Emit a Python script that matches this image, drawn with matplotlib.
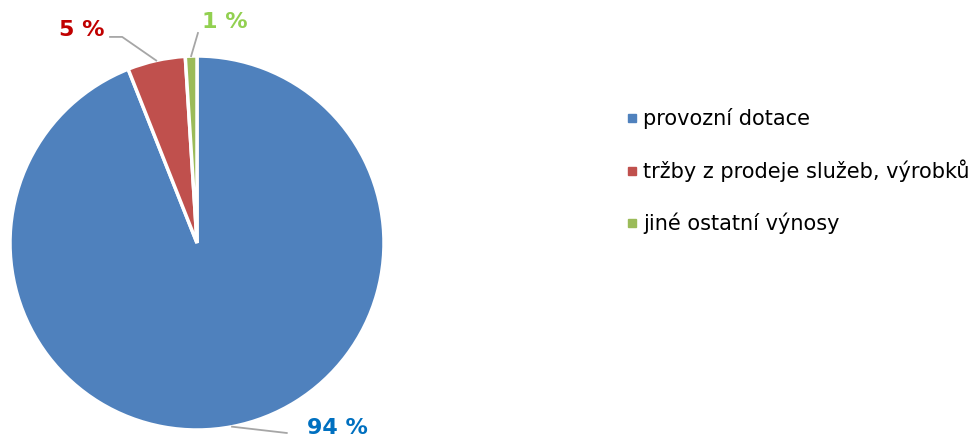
import matplotlib
matplotlib.use("Agg")
import matplotlib.pyplot as plt
import numpy as np
from matplotlib.lines import Line2D

categories = ["provozní dotace", "tržby z prodeje služeb, výrobků", "jiné ostatní výnosy"]
shares = [94, 5, 1]
labels = ["94 %", "5 %", "1 %"]
colors = ["#4F81BD", "#C0504D", "#9BBB59"]
label_colors = ["#0070C0", "#C00000", "#92D050"]

W, H = 975, 434
fig = plt.figure(figsize=(W / 100, H / 100), dpi=100)

# pie centre (197, 243) px, radius 187 px
cx, cy, r = 197, 243, 187
ax = fig.add_axes([(cx - r) / W, (H - cy - r) / H, 2 * r / W, 2 * r / H])
wedges, _ = ax.pie(shares, colors=colors, startangle=90, counterclock=False,
                   wedgeprops=dict(edgecolor="white", linewidth=2.5), radius=1)
ax.set_xlim(-1, 1)
ax.set_ylim(-1, 1)
ax.set_aspect("equal")
ax.axis("off")

# label text positions and leader-line elbows (relative to the pie, radius units)
text_pos = [(0.75, -0.99), (-0.615, 1.14), (0.15, 1.18)]
elbows = [None, (-0.40, 1.102), None]
line_ends = [(0.48, -1.016), (-0.465, 1.102), (0.005, 1.123)]

for w, lab, lc, tp, el, le in zip(wedges, labels, label_colors, text_pos, elbows, line_ends):
    mid = np.deg2rad((w.theta1 + w.theta2) / 2)
    ax0 = (np.cos(mid), np.sin(mid))
    pts = [ax0] + ([el] if el else []) + [le]
    xs, ys = zip(*pts)
    ax.plot(xs, ys, color="#A6A6A6", lw=1.3, clip_on=False)
    ax.text(tp[0], tp[1], lab, color=lc, fontsize=16, fontweight="bold",
            ha="center", va="center", clip_on=False)

handles = [Line2D([], [], marker="s", color=c, linestyle="none", markersize=6) for c in colors]
fig.legend(handles, categories, loc="upper left", bbox_to_anchor=(617 / W, 1 - 100 / H),
           frameon=False, fontsize=15, handletextpad=0.25, labelspacing=1.45,
           handlelength=0.6, borderaxespad=0)

fig.savefig("out.png", dpi=100)
